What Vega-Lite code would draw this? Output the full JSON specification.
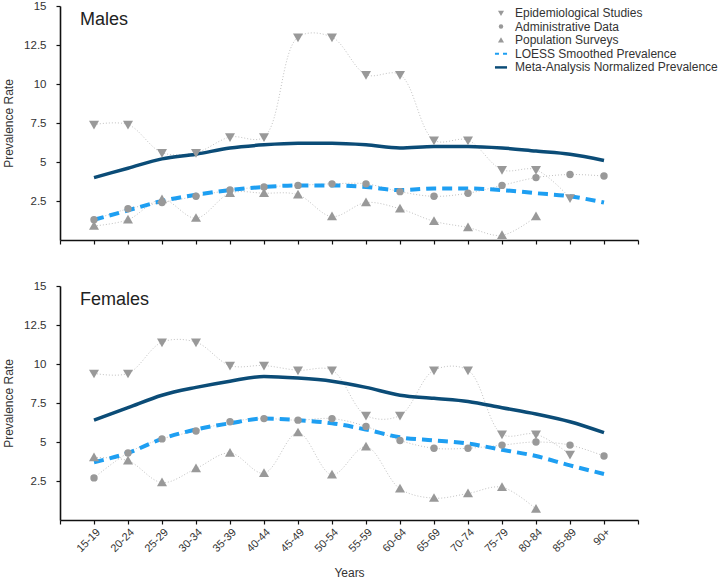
{
  "$schema": "https://vega.github.io/schema/vega-lite/v6.json",
  "padding": {"left": 2, "top": 0, "right": 0, "bottom": 0},
  "background": "white",
  "config": {
    "font": "Liberation Sans",
    "view": {"stroke": null},
    "concat": {"spacing": 35},
    "axis": {
      "grid": false,
      "labelColor": "#333333",
      "titleColor": "#333333",
      "domainColor": "#111111",
      "tickColor": "#111111",
      "domainWidth": 1.6,
      "tickWidth": 1.2,
      "tickSize": 4,
      "labelFontSize": 11.5,
      "titleFontSize": 12,
      "titleFontWeight": "normal"
    },
    "legend": {"labelFontSize": 12, "labelColor": "#333333", "labelLimit": 0}
  },
  "datasets": {
    "prev": [
      {"sex": "Males", "age": "15-19", "Epidemiological Studies": 7.4, "Administrative Data": 1.3, "Population Surveys": 0.9, "LOESS Smoothed Prevalence": 1.3, "Meta-Analysis Normalized Prevalence": 4.0},
      {"sex": "Males", "age": "20-24", "Epidemiological Studies": 7.4, "Administrative Data": 2.0, "Population Surveys": 1.3, "LOESS Smoothed Prevalence": 1.9, "Meta-Analysis Normalized Prevalence": 4.6},
      {"sex": "Males", "age": "25-29", "Epidemiological Studies": 5.6, "Administrative Data": 2.4, "Population Surveys": 2.6, "LOESS Smoothed Prevalence": 2.5, "Meta-Analysis Normalized Prevalence": 5.2},
      {"sex": "Males", "age": "30-34", "Epidemiological Studies": 5.6, "Administrative Data": 2.8, "Population Surveys": 1.4, "LOESS Smoothed Prevalence": 2.9, "Meta-Analysis Normalized Prevalence": 5.5},
      {"sex": "Males", "age": "35-39", "Epidemiological Studies": 6.6, "Administrative Data": 3.2, "Population Surveys": 3.0, "LOESS Smoothed Prevalence": 3.2, "Meta-Analysis Normalized Prevalence": 5.9},
      {"sex": "Males", "age": "40-44", "Epidemiological Studies": 6.6, "Administrative Data": 3.4, "Population Surveys": 3.0, "LOESS Smoothed Prevalence": 3.4, "Meta-Analysis Normalized Prevalence": 6.1},
      {"sex": "Males", "age": "45-49", "Epidemiological Studies": 13.0, "Administrative Data": 3.5, "Population Surveys": 2.9, "LOESS Smoothed Prevalence": 3.5, "Meta-Analysis Normalized Prevalence": 6.2},
      {"sex": "Males", "age": "50-54", "Epidemiological Studies": 13.0, "Administrative Data": 3.6, "Population Surveys": 1.5, "LOESS Smoothed Prevalence": 3.5, "Meta-Analysis Normalized Prevalence": 6.2},
      {"sex": "Males", "age": "55-59", "Epidemiological Studies": 10.6, "Administrative Data": 3.6, "Population Surveys": 2.4, "LOESS Smoothed Prevalence": 3.4, "Meta-Analysis Normalized Prevalence": 6.1},
      {"sex": "Males", "age": "60-64", "Epidemiological Studies": 10.6, "Administrative Data": 3.1, "Population Surveys": 2.0, "LOESS Smoothed Prevalence": 3.2, "Meta-Analysis Normalized Prevalence": 5.9},
      {"sex": "Males", "age": "65-69", "Epidemiological Studies": 6.4, "Administrative Data": 2.8, "Population Surveys": 1.2, "LOESS Smoothed Prevalence": 3.3, "Meta-Analysis Normalized Prevalence": 6.0},
      {"sex": "Males", "age": "70-74", "Epidemiological Studies": 6.4, "Administrative Data": 3.0, "Population Surveys": 0.8, "LOESS Smoothed Prevalence": 3.3, "Meta-Analysis Normalized Prevalence": 6.0},
      {"sex": "Males", "age": "75-79", "Epidemiological Studies": 4.5, "Administrative Data": 3.5, "Population Surveys": 0.3, "LOESS Smoothed Prevalence": 3.2, "Meta-Analysis Normalized Prevalence": 5.9},
      {"sex": "Males", "age": "80-84", "Epidemiological Studies": 4.5, "Administrative Data": 4.0, "Population Surveys": 1.5, "LOESS Smoothed Prevalence": 3.0, "Meta-Analysis Normalized Prevalence": 5.7},
      {"sex": "Males", "age": "85-89", "Epidemiological Studies": 2.7, "Administrative Data": 4.2, "Population Surveys": null, "LOESS Smoothed Prevalence": 2.8, "Meta-Analysis Normalized Prevalence": 5.5},
      {"sex": "Males", "age": "90+", "Epidemiological Studies": null, "Administrative Data": 4.1, "Population Surveys": null, "LOESS Smoothed Prevalence": 2.4, "Meta-Analysis Normalized Prevalence": 5.1},
      {"sex": "Females", "age": "15-19", "Epidemiological Studies": 9.4, "Administrative Data": 2.7, "Population Surveys": 4.0, "LOESS Smoothed Prevalence": 3.7, "Meta-Analysis Normalized Prevalence": 6.4},
      {"sex": "Females", "age": "20-24", "Epidemiological Studies": 9.4, "Administrative Data": 4.3, "Population Surveys": 3.8, "LOESS Smoothed Prevalence": 4.3, "Meta-Analysis Normalized Prevalence": 7.2},
      {"sex": "Females", "age": "25-29", "Epidemiological Studies": 11.4, "Administrative Data": 5.2, "Population Surveys": 2.4, "LOESS Smoothed Prevalence": 5.2, "Meta-Analysis Normalized Prevalence": 8.0},
      {"sex": "Females", "age": "30-34", "Epidemiological Studies": 11.4, "Administrative Data": 5.7, "Population Surveys": 3.3, "LOESS Smoothed Prevalence": 5.8, "Meta-Analysis Normalized Prevalence": 8.5},
      {"sex": "Females", "age": "35-39", "Epidemiological Studies": 9.9, "Administrative Data": 6.3, "Population Surveys": 4.3, "LOESS Smoothed Prevalence": 6.2, "Meta-Analysis Normalized Prevalence": 8.9},
      {"sex": "Females", "age": "40-44", "Epidemiological Studies": 9.9, "Administrative Data": 6.5, "Population Surveys": 3.0, "LOESS Smoothed Prevalence": 6.5, "Meta-Analysis Normalized Prevalence": 9.2},
      {"sex": "Females", "age": "45-49", "Epidemiological Studies": 9.6, "Administrative Data": 6.4, "Population Surveys": 5.6, "LOESS Smoothed Prevalence": 6.4, "Meta-Analysis Normalized Prevalence": 9.1},
      {"sex": "Females", "age": "50-54", "Epidemiological Studies": 9.6, "Administrative Data": 6.5, "Population Surveys": 2.9, "LOESS Smoothed Prevalence": 6.2, "Meta-Analysis Normalized Prevalence": 8.9},
      {"sex": "Females", "age": "55-59", "Epidemiological Studies": 6.7, "Administrative Data": 6.0, "Population Surveys": 4.7, "LOESS Smoothed Prevalence": 5.8, "Meta-Analysis Normalized Prevalence": 8.5},
      {"sex": "Females", "age": "60-64", "Epidemiological Studies": 6.7, "Administrative Data": 5.1, "Population Surveys": 2.0, "LOESS Smoothed Prevalence": 5.3, "Meta-Analysis Normalized Prevalence": 8.0},
      {"sex": "Females", "age": "65-69", "Epidemiological Studies": 9.6, "Administrative Data": 4.6, "Population Surveys": 1.4, "LOESS Smoothed Prevalence": 5.1, "Meta-Analysis Normalized Prevalence": 7.8},
      {"sex": "Females", "age": "70-74", "Epidemiological Studies": 9.6, "Administrative Data": 4.6, "Population Surveys": 1.7, "LOESS Smoothed Prevalence": 4.9, "Meta-Analysis Normalized Prevalence": 7.6},
      {"sex": "Females", "age": "75-79", "Epidemiological Studies": 5.5, "Administrative Data": 4.8, "Population Surveys": 2.1, "LOESS Smoothed Prevalence": 4.5, "Meta-Analysis Normalized Prevalence": 7.2},
      {"sex": "Females", "age": "80-84", "Epidemiological Studies": 5.5, "Administrative Data": 5.0, "Population Surveys": 0.7, "LOESS Smoothed Prevalence": 4.1, "Meta-Analysis Normalized Prevalence": 6.8},
      {"sex": "Females", "age": "85-89", "Epidemiological Studies": 4.2, "Administrative Data": 4.8, "Population Surveys": null, "LOESS Smoothed Prevalence": 3.5, "Meta-Analysis Normalized Prevalence": 6.3},
      {"sex": "Females", "age": "90+", "Epidemiological Studies": null, "Administrative Data": 4.1, "Population Surveys": null, "LOESS Smoothed Prevalence": 2.95, "Meta-Analysis Normalized Prevalence": 5.6}
    ]
  },
  "resolve": {"scale": {"color": "independent", "shape": "independent"}},
  "vconcat": [
    {
      "width": 578,
      "height": 234,
      "data": {"name": "prev"},
      "transform": [
        {"filter": "datum.sex == 'Males'"},
        {"fold": ["Epidemiological Studies", "Administrative Data", "Population Surveys", "LOESS Smoothed Prevalence", "Meta-Analysis Normalized Prevalence"], "as": ["series", "value"]},
        {"filter": "isValid(datum.value)"}
      ],
      "encoding": {
        "x": {
          "field": "age", "type": "ordinal",
          "scale": {"type": "point", "padding": 0, "domain": ["", "15-19", "20-24", "25-29", "30-34", "35-39", "40-44", "45-49", "50-54", "55-59", "60-64", "65-69", "70-74", "75-79", "80-84", "85-89", "90+", " "]},
          "axis": {"labels": false, "title": null, "ticks": true}
        },
        "y": {
          "field": "value", "type": "quantitative",
          "scale": {"domain": [0, 15], "nice": false, "zero": true},
          "axis": {"values": [2.5, 5, 7.5, 10, 12.5, 15], "labelExpr": "'' + datum.value", "title": "Prevalence Rate", "labelPadding": 10, "titlePadding": 8}
        }
      },
      "layer": [
        {
          "transform": [{"filter": "datum.series == 'Epidemiological Studies' || datum.series == 'Administrative Data' || datum.series == 'Population Surveys'"}],
          "mark": {"type": "line", "interpolate": "catmull-rom", "stroke": "#c2c2c2", "strokeWidth": 1, "strokeDash": [1, 2]},
          "encoding": {"detail": {"field": "series"}}
        },
        {
          "transform": [{"filter": "datum.series == 'LOESS Smoothed Prevalence'"}],
          "mark": {"type": "line", "interpolate": "monotone", "stroke": "#1e9ff2", "strokeWidth": 4, "strokeDash": [10, 6]}
        },
        {
          "transform": [{"filter": "datum.series == 'Meta-Analysis Normalized Prevalence'"}],
          "mark": {"type": "line", "interpolate": "monotone", "stroke": "#0b4c77", "strokeWidth": 3.5}
        },
        {
          "transform": [{"filter": "datum.series == 'Epidemiological Studies' || datum.series == 'Administrative Data' || datum.series == 'Population Surveys'"}],
          "mark": {"type": "point", "filled": true, "opacity": 1, "size": 55, "strokeWidth": 0},
          "encoding": {
            "color": {
              "field": "series", "type": "nominal",
              "scale": {"domain": ["Epidemiological Studies", "Administrative Data", "Population Surveys", "LOESS Smoothed Prevalence", "Meta-Analysis Normalized Prevalence"], "range": ["#999999", "#999999", "#999999", "#1e9ff2", "#0b4c77"]},
              "legend": {"title": null, "orient": "none", "legendX": 435, "legendY": 1, "symbolSize": 20, "labelOffset": 8, "rowPadding": 1.6, "padding": 0, "symbolStrokeWidth": 0, "labelLimit": 0,
                "encode": {"symbols": {"update": {"shape": {"signal": "datum.value == 'Epidemiological Studies' ? 'M-1.35,-1L1.35,-1L0,1.35Z M-3,-0.22H-2.55V0.22H-3Z M2.55,-0.22H3V0.22H2.55Z' : datum.value == 'Administrative Data' ? 'M-1.3,0A1.3,1.3 0 1,0 1.3,0A1.3,1.3 0 1,0 -1.3,0Z M-3,-0.22H-2.55V0.22H-3Z M2.55,-0.22H3V0.22H2.55Z' : datum.value == 'Population Surveys' ? 'M0,-1.35L1.35,1L-1.35,1Z M-3,-0.22H-2.55V0.22H-3Z M2.55,-0.22H3V0.22H2.55Z' : datum.value == 'LOESS Smoothed Prevalence' ? 'M-2.9,-0.45H-1.1V0.45H-2.9Z M0.7,-0.45H2.5V0.45H0.7Z' : 'M-2.9,-0.55H2.7V0.55H-2.9Z'"}}}}
              }
            },
            "shape": {
              "field": "series", "type": "nominal",
              "scale": {"domain": ["Epidemiological Studies", "Administrative Data", "Population Surveys", "LOESS Smoothed Prevalence", "Meta-Analysis Normalized Prevalence"], "range": ["M-1.35,-1L1.35,-1L0,1.35Z", "circle", "M0,-1.35L1.35,1L-1.35,1Z", "M-2.7,-0.45H-0.9V0.45H-2.7Z M0.9,-0.45H2.7V0.45H0.9Z", "M-2.7,-0.55H2.7V0.55H-2.7Z"]},
              "legend": {"title": null, "orient": "none", "legendX": 435, "legendY": 1, "symbolSize": 20, "labelOffset": 8, "rowPadding": 1.6, "padding": 0, "symbolStrokeWidth": 0, "labelLimit": 0,
                "encode": {"symbols": {"update": {"shape": {"signal": "datum.value == 'Epidemiological Studies' ? 'M-1.35,-1L1.35,-1L0,1.35Z M-3,-0.22H-2.55V0.22H-3Z M2.55,-0.22H3V0.22H2.55Z' : datum.value == 'Administrative Data' ? 'M-1.3,0A1.3,1.3 0 1,0 1.3,0A1.3,1.3 0 1,0 -1.3,0Z M-3,-0.22H-2.55V0.22H-3Z M2.55,-0.22H3V0.22H2.55Z' : datum.value == 'Population Surveys' ? 'M0,-1.35L1.35,1L-1.35,1Z M-3,-0.22H-2.55V0.22H-3Z M2.55,-0.22H3V0.22H2.55Z' : datum.value == 'LOESS Smoothed Prevalence' ? 'M-2.9,-0.45H-1.1V0.45H-2.9Z M0.7,-0.45H2.5V0.45H0.7Z' : 'M-2.9,-0.55H2.7V0.55H-2.9Z'"}}}}
              }
            }
          }
        },
        {
          "transform": [{"filter": "datum.age == '15-19' && datum.series == 'Administrative Data'"}],
          "mark": {"type": "text", "fontSize": 18, "align": "left", "baseline": "middle", "dx": -14, "color": "#222222"},
          "encoding": {"y": {"datum": 14.1}, "text": {"field": "sex"}}
        }
      ]
    },
    {
      "width": 578,
      "height": 234,
      "data": {"name": "prev"},
      "transform": [
        {"filter": "datum.sex == 'Females'"},
        {"fold": ["Epidemiological Studies", "Administrative Data", "Population Surveys", "LOESS Smoothed Prevalence", "Meta-Analysis Normalized Prevalence"], "as": ["series", "value"]},
        {"filter": "isValid(datum.value)"}
      ],
      "encoding": {
        "x": {
          "field": "age", "type": "ordinal",
          "scale": {"type": "point", "padding": 0, "domain": ["", "15-19", "20-24", "25-29", "30-34", "35-39", "40-44", "45-49", "50-54", "55-59", "60-64", "65-69", "70-74", "75-79", "80-84", "85-89", "90+", " "]},
          "axis": {"labelAngle": -45, "labelFontSize": 11, "title": "Years", "titlePadding": 13.5}
        },
        "y": {
          "field": "value", "type": "quantitative",
          "scale": {"domain": [0, 15], "nice": false, "zero": true},
          "axis": {"values": [2.5, 5, 7.5, 10, 12.5, 15], "labelExpr": "'' + datum.value", "title": "Prevalence Rate", "labelPadding": 10, "titlePadding": 8}
        }
      },
      "layer": [
        {
          "transform": [{"filter": "datum.series == 'Epidemiological Studies' || datum.series == 'Administrative Data' || datum.series == 'Population Surveys'"}],
          "mark": {"type": "line", "interpolate": "catmull-rom", "stroke": "#c2c2c2", "strokeWidth": 1, "strokeDash": [1, 2]},
          "encoding": {"detail": {"field": "series"}}
        },
        {
          "transform": [{"filter": "datum.series == 'LOESS Smoothed Prevalence'"}],
          "mark": {"type": "line", "interpolate": "monotone", "stroke": "#1e9ff2", "strokeWidth": 4, "strokeDash": [10, 6]}
        },
        {
          "transform": [{"filter": "datum.series == 'Meta-Analysis Normalized Prevalence'"}],
          "mark": {"type": "line", "interpolate": "monotone", "stroke": "#0b4c77", "strokeWidth": 3.5}
        },
        {
          "transform": [{"filter": "datum.series == 'Epidemiological Studies' || datum.series == 'Administrative Data' || datum.series == 'Population Surveys'"}],
          "mark": {"type": "point", "filled": true, "opacity": 1, "size": 55, "strokeWidth": 0},
          "encoding": {
            "color": {
              "field": "series", "type": "nominal",
              "scale": {"domain": ["Epidemiological Studies", "Administrative Data", "Population Surveys", "LOESS Smoothed Prevalence", "Meta-Analysis Normalized Prevalence"], "range": ["#999999", "#999999", "#999999", "#1e9ff2", "#0b4c77"]},
              "legend": null
            },
            "shape": {
              "field": "series", "type": "nominal",
              "scale": {"domain": ["Epidemiological Studies", "Administrative Data", "Population Surveys", "LOESS Smoothed Prevalence", "Meta-Analysis Normalized Prevalence"], "range": ["M-1.35,-1L1.35,-1L0,1.35Z", "circle", "M0,-1.35L1.35,1L-1.35,1Z", "M-2.7,-0.45H-0.9V0.45H-2.7Z M0.9,-0.45H2.7V0.45H0.9Z", "M-2.7,-0.55H2.7V0.55H-2.7Z"]},
              "legend": null
            }
          }
        },
        {
          "transform": [{"filter": "datum.age == '15-19' && datum.series == 'Administrative Data'"}],
          "mark": {"type": "text", "fontSize": 18, "align": "left", "baseline": "middle", "dx": -14, "color": "#222222"},
          "encoding": {"y": {"datum": 14.1}, "text": {"field": "sex"}}
        }
      ]
    }
  ]
}
